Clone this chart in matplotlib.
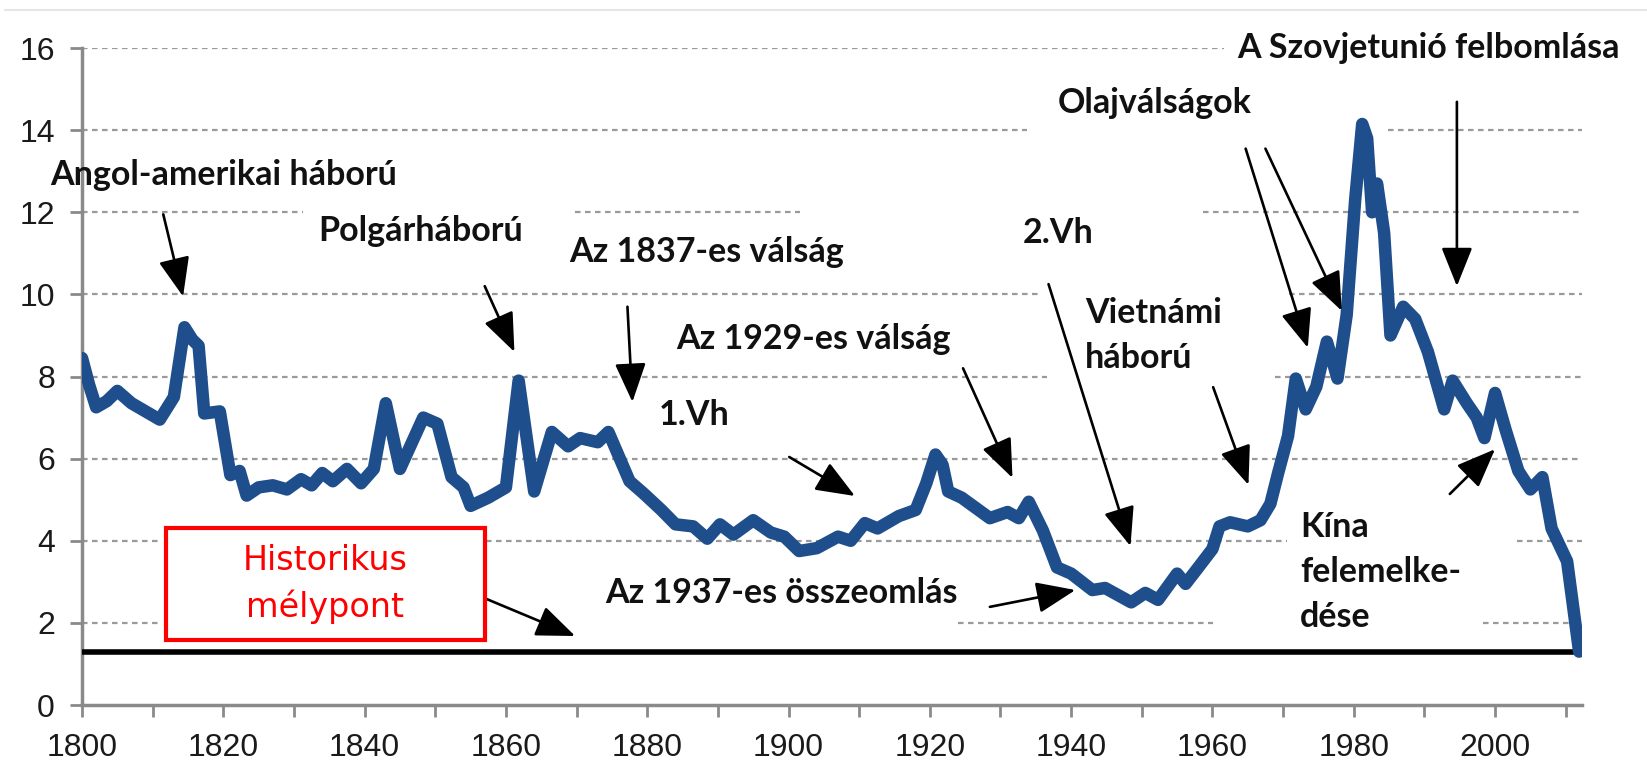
import matplotlib
matplotlib.use("Agg")
import matplotlib.pyplot as plt
from matplotlib.patches import Rectangle
from matplotlib.ticker import MultipleLocator

# long-run yield series (year, %)
years = [1800, 1801, 1802, 1803.5, 1805, 1807, 1809, 1811, 1813, 1814.5,
         1815.6, 1816.5, 1817.3, 1819.5, 1821, 1822.3, 1823.3, 1825, 1827, 1829,
         1831, 1832.5, 1834, 1835.5, 1837.5, 1839.5, 1841.3, 1843, 1845, 1848.3,
         1850.3, 1852.3, 1854, 1855, 1857.5, 1860, 1861.8, 1864, 1866.5, 1868.8,
         1870.5, 1873, 1874.5, 1877.5, 1879.5, 1882, 1884, 1886.5, 1888.5, 1890.3,
         1892.2, 1895, 1897.5, 1899.4, 1901.5, 1904, 1907, 1908.8, 1910.8, 1912.6,
         1915.6, 1918, 1919.5, 1920.8, 1921.8, 1922.6, 1924.5, 1928.5, 1931, 1932.6,
         1934, 1936, 1938, 1940, 1943, 1944.8, 1948.5, 1950.5, 1952.3, 1955,
         1956.2, 1958, 1960, 1961, 1962.5, 1965, 1966.8, 1968.2, 1969.3, 1970.7,
         1971.8, 1973.2, 1974.7, 1976.2, 1977.7, 1979, 1980.2, 1981.2, 1981.9, 1982.6,
         1983.3, 1984.3, 1985.2, 1987, 1988.7, 1990.5, 1992.8, 1994, 1996, 1997.4,
         1998.5, 2000, 2001.5, 2003.3, 2005, 2006.7, 2008, 2010.2, 2011.9]
values = [8.45, 7.8, 7.25, 7.4, 7.65, 7.35, 7.15, 6.95, 7.5, 9.2,
          8.9, 8.75, 7.1, 7.15, 5.6, 5.7, 5.1, 5.3, 5.35, 5.25,
          5.5, 5.35, 5.65, 5.45, 5.75, 5.4, 5.75, 7.35, 5.75, 7.0,
          6.85, 5.55, 5.3, 4.85, 5.05, 5.3, 7.9, 5.2, 6.65, 6.3,
          6.5, 6.4, 6.65, 5.45, 5.15, 4.75, 4.4, 4.35, 4.05, 4.4,
          4.15, 4.5, 4.2, 4.1, 3.75, 3.82, 4.1, 4.0, 4.43, 4.3,
          4.6, 4.75, 5.4, 6.1, 5.85, 5.2, 5.05, 4.55, 4.7, 4.55,
          4.95, 4.25, 3.35, 3.2, 2.8, 2.85, 2.5, 2.73, 2.56, 3.2,
          2.95, 3.35, 3.8, 4.35, 4.45, 4.35, 4.5, 4.9, 5.65, 6.55,
          7.95, 7.2, 7.75, 8.85, 7.95, 9.5, 12.3, 14.15, 13.8, 12.0,
          12.7, 11.5, 9.0, 9.7, 9.4, 8.6, 7.2, 7.9, 7.35, 7.0,
          6.5, 7.6, 6.7, 5.7, 5.25, 5.55, 4.3, 3.5, 1.3]
historic_low = 1.3

# annotations: label, text position, arrow tails and heads
labels = ["Angol-amerikai háború", "Polgárháború", "Az 1837-es válság",
          "Az 1929-es válság", "1.Vh", "2.Vh", "Vietnámi\nháború",
          "Olajválságok", "A Szovjetunió felbomlása", "Az 1937-es összeomlás",
          "Kína\nfelemelke-\ndése"]
label_pos = [(1795.5, 12.9), (1833.5, 11.55), (1869.0, 11.03),
             (1884.1, 8.91), (1881.7, 7.06), (1933.1, 11.5), (1942.0, 9.0),
             (1938.1, 14.66), (1963.5, 16.0), (1874.0, 2.73), (1972.4, 3.24)]
arrow_tail = [(1811.5, 11.95), (1857.0, 10.2), (1877.2, 9.7), (1924.7, 8.2),
              (1900.1, 6.04), (1936.8, 10.25), (1960.1, 7.74), (1964.7, 13.55),
              (1967.5, 13.55), (1994.6, 14.69), (1928.5, 2.39), (1993.6, 5.14),
              (1857.0, 2.6)]
arrow_head = [(1814.3, 9.95), (1861.2, 8.6), (1877.9, 7.38), (1931.7, 5.53),
              (1909.4, 5.09), (1948.4, 3.87), (1965.1, 5.36), (1973.5, 8.7),
              (1978.3, 9.6), (1994.6, 10.2), (1940.6, 2.8), (2000.0, 6.23),
              (1869.8, 1.68)]

# visible pieces of the dashed grid (gaps sit behind the labels)
grid_pieces = {
    16: [(1800, 1961.6)],
    14: [(1800, 1933.7), (1984.9, 2012.3)],
    12: [(1800, 1831.3), (1869.8, 1901.6), (1958.6, 2012.3)],
    10: [(1800, 1935.8), (1970.9, 2012.3)],
    8: [(1800, 1936.6), (1968.8, 2012.3)],
    6: [(1800, 2012.3)],
    4: [(1800, 1810.8), (1853.0, 1970.5), (2003.1, 2012.3)],
    2: [(1800, 1810.8), (1924.0, 1960.1), (1998.3, 2012.3)],
}

fig = plt.figure(figsize=(16.47, 7.71), dpi=100)
ax = fig.add_axes([0.0498, 0.0856, 0.9107, 0.8521])
ax.set_xlim(1800, 2012.3)
ax.set_ylim(0, 16)

for yv, pieces in grid_pieces.items():
    for x0, x1 in pieces:
        ax.plot([x0, x1], [yv, yv], color='#9a9a9a', lw=1.6,
                ls=(0, (2.5, 2)), zorder=1)

ax.plot([1800, 2012.3], [historic_low, historic_low], color='black', lw=4,
        zorder=3, solid_capstyle='butt')
ax.plot(years, values, color='#1f4e8c', lw=9, solid_joinstyle='round',
        solid_capstyle='round', zorder=4)

# text labels
txt_font = dict(family='Lato', fontweight='bold', fontsize=24.5, color='#111111')
for lab, (x, y) in zip(labels, label_pos):
    ax.text(x, y, lab, ha='left', va='center', linespacing=1.5,
            zorder=5, **txt_font)

for t, h in zip(arrow_tail, arrow_head):
    ax.annotate('', xy=h, xytext=t,
                arrowprops=dict(arrowstyle='-|>,head_width=0.42,head_length=1.05',
                                color='black', lw=1.9, mutation_scale=23,
                                shrinkA=0, shrinkB=0), zorder=6)

# red "historic low" box
ax.add_patch(Rectangle((1811.9, 1.58), 45.1, 2.73, facecolor='white',
                       edgecolor='#ff0000', lw=3, zorder=7))
ax.text(1834.4, 2.95, 'Historikus\nmélypont', ha='center', va='center',
        color='#ff0000', fontsize=24, family='DejaVu Sans', linespacing=1.45,
        zorder=8)

# axes styling
for side in ['top', 'right']:
    ax.spines[side].set_visible(False)
for side in ['left', 'bottom']:
    ax.spines[side].set_color('#8a8a8a')
    ax.spines[side].set_linewidth(2.5)

ax.xaxis.set_major_locator(MultipleLocator(20))
ax.xaxis.set_minor_locator(MultipleLocator(10))
ax.yaxis.set_major_locator(MultipleLocator(2))
ax.tick_params(axis='both', which='both', direction='out', length=8.5,
               width=2, color='#8a8a8a', labelcolor='#1a1a1a')
ax.tick_params(axis='x', which='major', pad=12)
ax.tick_params(axis='y', which='major', pad=11)
for lbl in ax.get_xticklabels() + ax.get_yticklabels():
    lbl.set_fontfamily('Liberation Sans')
    lbl.set_fontsize(23)

# faint frame line along the top of the picture
fig.add_artist(plt.Line2D([0.003, 1.0], [0.987, 0.987], color='#e6e6e6', lw=1.5))

fig.savefig('out.png', dpi=100, facecolor='white')
